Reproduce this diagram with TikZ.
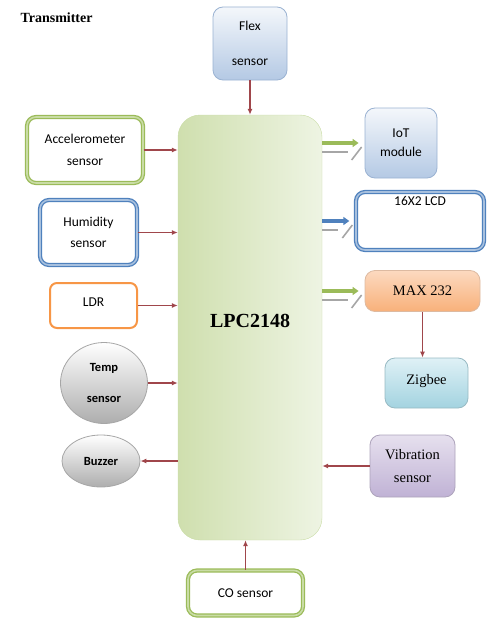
\documentclass[tikz,border=0pt]{standalone}
\usepackage{fontspec}
\setmainfont{Liberation Serif}
\newfontfamily\calfont{Carlito}
\usetikzlibrary{arrows.meta,shapes.geometric}
\definecolor{sigRed}{HTML}{A0464B}
\definecolor{grnCol}{HTML}{9BBB59}
\definecolor{grnLite}{HTML}{C9DCA5}
\definecolor{bluCol}{HTML}{4F81BD}
\definecolor{bluLite}{HTML}{A7C0DE}
\definecolor{orgCol}{HTML}{F79646}
\definecolor{lpcDark}{HTML}{CFDFAE}
\definecolor{lpcLite}{HTML}{EEF4E3}
\definecolor{skyTop}{HTML}{F4F7FB}
\definecolor{skyBot}{HTML}{B4C9E4}
\definecolor{skyEdge}{HTML}{9AB2D2}
\definecolor{maxTop}{HTML}{FCDAC0}
\definecolor{maxBot}{HTML}{F8B07A}
\definecolor{zigTop}{HTML}{DFF1F6}
\definecolor{zigBot}{HTML}{A3D3E0}
\definecolor{vibTop}{HTML}{E6E0EE}
\definecolor{vibBot}{HTML}{C0B2D5}
\definecolor{shadeGray}{HTML}{A6A6A6}

\begin{document}
\begin{tikzpicture}[
    x=1pt, y=-1pt,
    sig/.style={-{Latex[length=6pt,width=5pt]}, draw=sigRed, line width=1.5pt},
    bus/.style={-{Triangle[length=6pt,width=8pt]}, line width=4.5pt},
    busshade/.style={draw=shadeGray, line width=1.6pt},
    sanslab/.style={font=\calfont\fontsize{13.5}{16}\selectfont, align=center},
    serlab/.style={font=\fontsize{14.5}{17}\selectfont, align=center},
    framebox/.style={sanslab, fill=white, rounded corners=9pt, inner sep=0pt},
    grnbox/.style={framebox, draw=grnCol, line width=1.3pt, double=grnLite, double distance=1.6pt},
    blubox/.style={framebox, draw=bluCol, line width=1.3pt, double=bluLite, double distance=1.6pt},
    softbox/.style={rounded corners=10pt, inner sep=0pt, line width=0.8pt},
    skybox/.style={softbox, sanslab, draw=skyEdge, top color=skyTop, bottom color=skyBot},
    ball/.style={ellipse, draw=gray!70, line width=0.8pt, top color=white, bottom color=black!32,
      inner sep=0pt, align=center, font=\calfont\bfseries\fontsize{12.5}{15}\selectfont},
  ]
\useasboundingbox (0,0) rectangle (488,618);

% Title
\node[anchor=west, font=\bfseries\fontsize{14}{17}\selectfont] (title) at (17,18) {Transmitter};

% Controller
\node[draw=grnLite, rounded corners=22pt, left color=lpcDark, right color=lpcLite,
      minimum width=144pt, minimum height=425pt, text depth=14pt,
      font=\bfseries\fontsize{20}{24}\selectfont] (lpc) at (250,327.5) {LPC2148};

% Left column
\node[grnbox, minimum width=116pt, minimum height=66pt] (acc) at (85,150) {Accelerometer\\[6pt]sensor};
\node[blubox, minimum width=97pt, minimum height=65pt] (hum) at (88.5,232.5) {Humidity\\[5pt]sensor};
\node[framebox, draw=orgCol, line width=2pt, rounded corners=7pt,
      minimum width=87pt, minimum height=45pt, text depth=6pt] (ldr) at (93.5,305.5) {LDR};
\node[ball, minimum width=87pt, minimum height=81pt] (temp) at (104,383) {Temp\\[16pt]sensor};
\node[ball, minimum width=78pt, minimum height=52pt] (buzz) at (101,461) {Buzzer};

% Top and bottom
\node[skybox, minimum width=74pt, minimum height=73pt] (flex) at (250,43.5) {Flex\\[19pt]sensor};
\node[grnbox, minimum width=115pt, minimum height=45pt] (co) at (245.5,593) {CO sensor};

% Right column
\node[skybox, minimum width=72pt, minimum height=70pt] (iot) at (401,143) {IoT\\[3pt]module};
\node[blubox, minimum width=128pt, text height=13pt, text depth=45pt] (lcd) at (420,221) {16X2 LCD};
\node[softbox, serlab, draw=maxBot!80!black!60, top color=maxTop, bottom color=maxBot,
      minimum width=115pt, minimum height=41pt] (maxic) at (422.5,291) {MAX 232};
\node[softbox, serlab, draw=zigBot!70!gray, top color=zigTop, bottom color=zigBot,
      minimum width=83pt, minimum height=50pt, text depth=8pt] (zig) at (426.5,383) {Zigbee};
\node[softbox, serlab, draw=vibBot!70!gray, top color=vibTop, bottom color=vibBot,
      minimum width=85pt, minimum height=62pt] (vib) at (412.5,466) {Vibration\\[6pt]sensor};

% Signals into and out of the controller
\draw[sig] (flex.south) -- (lpc.north);
\draw[sig] (acc.east) -- (acc.east -| lpc.west);
\draw[sig] (hum.east) -- (hum.east -| lpc.west);
\draw[sig] (ldr.east) -- (ldr.east -| lpc.west);
\draw[sig] (temp.east) -- (temp.east -| lpc.west);
\draw[sig] (lpc.west |- buzz.east) -- (buzz.east);
\draw[sig] (vib.west) -- (vib.west -| lpc.east);
\draw[sig] (co.north) -- (co.north |- lpc.south);
\draw[sig] (maxic.south) -- (maxic.south |- zig.north);

% Output buses
\foreach \dst/\col in {iot/grnCol, lcd/bluCol, maxic/grnCol} {
  \draw[bus, draw=\col] (lpc.east |- \dst.west) -- ([xshift=-6pt]\dst.west);
  \draw[busshade] ([yshift=-9pt]lpc.east |- \dst.west) -- ([shift={(-17,9)}]\dst.west);
  \draw[busshade] ([shift={(-13,17)}]\dst.west) -- ([shift={(-3,4)}]\dst.west);
}

\end{tikzpicture}
\end{document}
